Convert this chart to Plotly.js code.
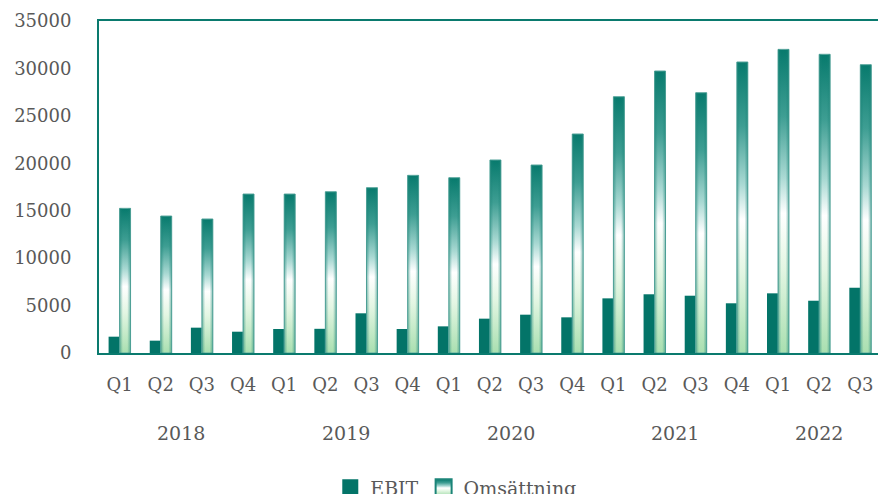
<!DOCTYPE html>
<html>
<head>
<meta charset="utf-8">
<script src="https://cdn.plot.ly/plotly-3.0.1.min.js"></script>
<style>
html,body{margin:0;padding:0;overflow:hidden;background:#fff;}
#chart{width:878px;height:494px;}
</style>
</head>
<body>
<div id="chart"></div>
<script>
const periods = ['2018 Q1','2018 Q2','2018 Q3','2018 Q4','2019 Q1','2019 Q2','2019 Q3','2019 Q4','2020 Q1','2020 Q2','2020 Q3','2020 Q4','2021 Q1','2021 Q2','2021 Q3','2021 Q4','2022 Q1','2022 Q2','2022 Q3'];
const quarterLabels = ['Q1','Q2','Q3','Q4','Q1','Q2','Q3','Q4','Q1','Q2','Q3','Q4','Q1','Q2','Q3','Q4','Q1','Q2','Q3'];
const periodYears = ['2018','2018','2018','2018','2019','2019','2019','2019','2020','2020','2020','2020','2021','2021','2021','2021','2022','2022','2022'];
const years = ['2018','2019','2020','2021','2022'];
const ebit = [1720,1300,2670,2245,2530,2550,4185,2530,2810,3620,4040,3760,5760,6190,6040,5240,6290,5510,6880];
const omsattning = [15250,14440,14130,16760,16760,17000,17430,18730,18480,20350,19820,23090,27020,29730,27440,30680,32010,31490,30395];

const FONT = 'DejaVu Serif, Liberation Serif, serif';
const TEXT = '#595959';
const TEAL = '#0a7a6e';

const traces = [
  {type:'bar', name:'EBIT', x:periods, y:ebit, marker:{color:'#037468'}},
  {type:'bar', name:'Omsättning', x:periods, y:omsattning, marker:{color:'#7cc7b8', line:{color:'#5ea9a0', width:1}}}
];

const yearAnnotations = years.map(yr => {
  const idx = periodYears.map((p,i)=>p===yr?i:-1).filter(i=>i>=0);
  const mid = (idx[0] + idx[idx.length-1]) / 2;
  return {x:mid, xref:'x', y:-0.241, yref:'paper', yanchor:'middle', text:yr, showarrow:false,
          font:{family:FONT, size:19, color:TEXT}};
});

const layout = {
  width:878, height:494,
  margin:{l:99, r:0, t:21, b:141, autoexpand:false},
  paper_bgcolor:'#fff', plot_bgcolor:'#fff',
  barmode:'group', bargap:0.466, bargroupgap:0,
  showlegend:true,
  legend:{orientation:'h', x:0.458, xanchor:'center', y:-0.405, yanchor:'middle',
          font:{family:FONT, size:19, color:TEXT}, itemclick:false},
  xaxis:{type:'category', tickvals:periods, ticktext:quarterLabels, range:[-0.5, 18.43],
         showline:true, linecolor:TEAL, linewidth:2, mirror:true, showgrid:false, zeroline:false,
         ticks:'outside', ticklen:14, tickcolor:'rgba(0,0,0,0)',
         tickfont:{family:FONT, size:18, color:TEXT}},
  yaxis:{range:[0,35000], dtick:5000, tickformat:'d', showline:true, linecolor:TEAL, linewidth:2,
         showgrid:false, zeroline:false, ticks:'outside', ticklen:22, tickcolor:'rgba(0,0,0,0)',
         tickfont:{family:FONT, size:18, color:TEXT}},
  annotations: yearAnnotations,
  font:{family:FONT, color:TEXT}
};

Plotly.newPlot('chart', traces, layout, {staticPlot:true, displayModeBar:false}).then(gd => {
  const svgNS = 'http://www.w3.org/2000/svg';
  const svg = gd.querySelector('svg.main-svg');
  let defs = svg.querySelector('defs');
  if (!defs) { defs = document.createElementNS(svgNS,'defs'); svg.insertBefore(defs, svg.firstChild); }
  function grad(id, x2, y2, stops){
    const g = document.createElementNS(svgNS,'linearGradient');
    g.setAttribute('id', id); g.setAttribute('x1','0'); g.setAttribute('y1','0');
    g.setAttribute('x2', x2); g.setAttribute('y2', y2);
    stops.forEach(s => {
      const st = document.createElementNS(svgNS,'stop');
      st.setAttribute('offset', s[0]); st.setAttribute('stop-color', s[1]);
      st.setAttribute('stop-opacity', s[2] === undefined ? 1 : s[2]);
      g.appendChild(st);
    });
    defs.appendChild(g);
  }
  grad('omsV','0','1',[[0,'#077a6d'],[0.22,'#3e9e93'],[0.42,'#a9d9d3'],[0.54,'#ffffff'],[0.72,'#e3f6e3'],[1,'#a9dfb0']]);
  grad('omsH','1','0',[[0,'#1b8478',0.55],[0.3,'#1b8478',0],[0.7,'#1b8478',0],[1,'#1b8478',0.55]]);

  const traceGroups = gd.querySelectorAll('.barlayer .trace');
  if (traceGroups.length > 1) {
    traceGroups[1].querySelectorAll('path').forEach(p => {
      p.style.fill = 'url(#omsV)';
      const c = p.cloneNode(true);
      c.style.fill = 'url(#omsH)';
      c.style.stroke = 'none';
      p.parentNode.insertBefore(c, p.nextSibling);
    });
  }
  const legendItems = gd.querySelectorAll('.legend .traces');
  legendItems.forEach((it, i) => {
    const p = it.querySelector('.legendpoints path');
    if (p) {
      p.setAttribute('d','M8,8H-8V-8H8Z');
      if (i === 1) { p.style.fill = 'url(#omsV)'; p.style.stroke = '#1b8478'; p.style.strokeWidth = '2px'; }
    }
  });
});
</script>
</body>
</html>
